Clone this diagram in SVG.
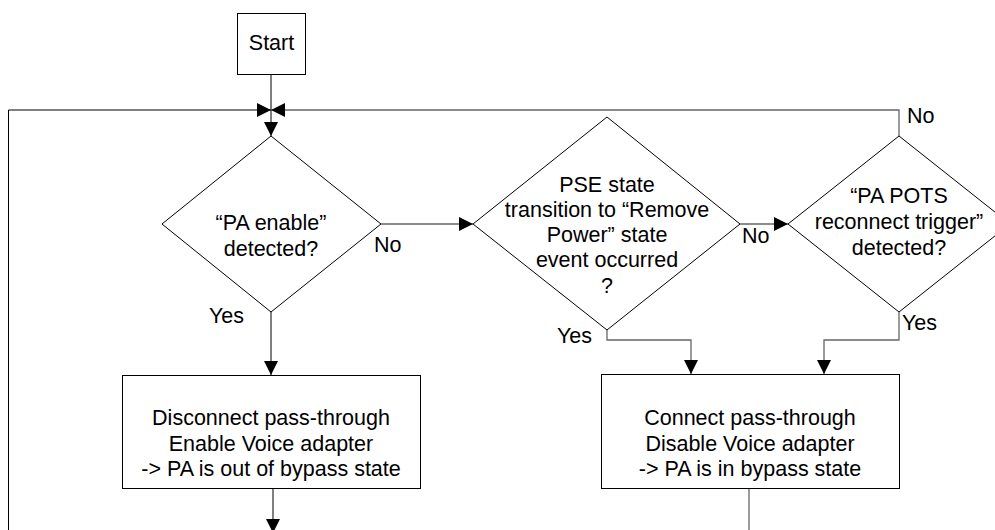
<svg xmlns="http://www.w3.org/2000/svg" width="995" height="530" viewBox="0 0 995 530">
<defs>
<style>
.shape{fill:#fff;stroke:#000;stroke-width:1}
.ln{fill:none;stroke:#000;stroke-width:1}
.lg{fill:none;stroke:#666;stroke-width:1.3}
text{font-family:"Liberation Sans",Arial,sans-serif;font-size:21.5px;fill:#000}
.c{text-anchor:middle}
</style>
<marker id="ah" markerUnits="userSpaceOnUse" markerWidth="14" markerHeight="14" refX="14" refY="7" orient="auto">
<path d="M0,0 L14,7 L0,14 Z" fill="#000"/>
</marker>
</defs>
<rect width="995" height="530" fill="#fff"/>
<g id="connectors">
<path class="ln" d="M271,74 V136" marker-end="url(#ah)"/>
<path class="ln" d="M8.5,530 V110 H271" marker-end="url(#ah)"/>
<path class="lg" d="M899,136 V110 H271" marker-end="url(#ah)"/>
<path class="ln" d="M271,312 V375" marker-end="url(#ah)"/>
<path class="lg" d="M381,224 H473" marker-end="url(#ah)"/>
<path class="lg" d="M740,224 H788" marker-end="url(#ah)"/>
<path class="lg" d="M607,330 V340 H691 V374" marker-end="url(#ah)"/>
<path class="lg" d="M899,312 V340 H824 V374" marker-end="url(#ah)"/>
<path class="ln" d="M273,488 V533" marker-end="url(#ah)"/>
<path class="lg" d="M749,488 V530"/>
<text x="374" y="252">No</text>
<text x="209" y="323">Yes</text>
<text x="742" y="243">No</text>
<text x="557" y="343">Yes</text>
<text x="902" y="330">Yes</text>
<text x="907" y="123">No</text>
</g>
<g id="start">
<rect class="shape" x="237.5" y="13.5" width="68" height="61"/>
<text class="c" x="271.5" y="50">Start</text>
</g>
<g id="d1">
<path class="shape" d="M271,136 L381,224 L271,312 L162,224 Z"/>
<text class="c" x="271" y="230">“PA enable”</text>
<text class="c" x="271" y="255.5">detected?</text>
</g>
<g id="d2">
<path class="shape" d="M607,117 L740,224 L607,330 L473,224 Z"/>
<text class="c" x="607" y="191.5">PSE state</text>
<text class="c" x="607" y="217">transition to “Remove</text>
<text class="c" x="607" y="242">Power” state</text>
<text class="c" x="607" y="267">event occurred</text>
<text class="c" x="607" y="292.5">?</text>
</g>
<g id="d3">
<path class="shape" d="M899,136 L1010,224 L899,312 L788,224 Z"/>
<text class="c" x="899" y="203">“PA POTS</text>
<text class="c" x="899" y="229">reconnect trigger”</text>
<text class="c" x="899" y="255">detected?</text>
</g>
<g id="box1">
<rect class="shape" x="122.5" y="375.5" width="298" height="113"/>
<text class="c" x="271" y="425">Disconnect pass-through</text>
<text class="c" x="271" y="451">Enable Voice adapter</text>
<text class="c" x="271" y="476">-&gt; PA is out of bypass state</text>
</g>
<g id="box2">
<rect class="shape" x="601.5" y="374.5" width="298" height="114"/>
<text class="c" x="750" y="425">Connect pass-through</text>
<text class="c" x="750" y="451">Disable Voice adapter</text>
<text class="c" x="750" y="476">-&gt; PA is in bypass state</text>
</g>
</svg>
